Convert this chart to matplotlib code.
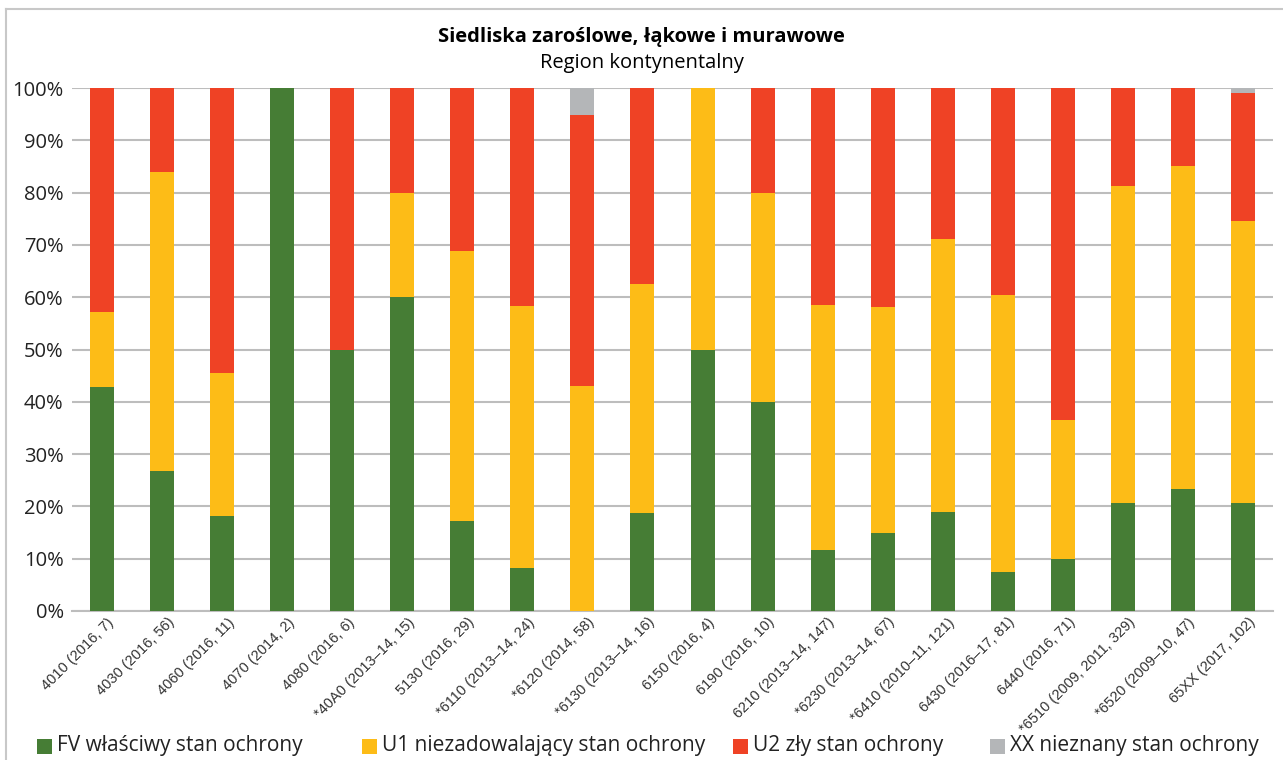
import numpy as np
import matplotlib.pyplot as plt
import matplotlib.transforms as mtransforms
from matplotlib.patches import Rectangle
from matplotlib.lines import Line2D
from matplotlib.ticker import PercentFormatter

categories = ['4010 (2016, 7)', '4030 (2016, 56)', '4060 (2016, 11)', '4070 (2014, 2)',
              '4080 (2016, 6)', '*40A0 (2013\u201314, 15)', '5130 (2016, 29)',
              '*6110 (2013\u201314, 24)', '*6120 (2014, 58)', '*6130 (2013\u201314, 16)',
              '6150 (2016, 4)', '6190 (2016, 10)', '6210 (2013\u201314, 147)',
              '*6230 (2013\u201314, 67)', '*6410 (2010\u201311, 121)', '6430 (2016\u201317, 81)',
              '6440 (2016, 71)', '*6510 (2009, 2011, 329)', '*6520 (2009\u201310, 47)',
              '65XX (2017, 102)']

fv = [42.9, 26.8, 18.2, 100, 50, 60, 17.2, 8.3, 0, 18.8,
      50, 40, 11.6, 14.9, 19.0, 7.4, 9.9, 20.7, 23.4, 20.6]
u1 = [14.3, 57.1, 27.3, 0, 0, 20, 51.7, 50.0, 43.1, 43.7,
      50, 40, 46.9, 43.3, 52.1, 53.1, 26.7, 60.5, 61.7, 53.9]
u2 = [42.8, 16.1, 54.5, 0, 50, 20, 31.1, 41.7, 51.7, 37.5,
      0, 20, 41.5, 41.8, 28.9, 39.5, 63.4, 18.8, 14.9, 24.5]
xx = [0, 0, 0, 0, 0, 0, 0, 0, 5.2, 0,
      0, 0, 0, 0, 0, 0, 0, 0, 0, 1.0]

series_labels = ['FV właściwy stan ochrony', 'U1 niezadowalający stan ochrony',
                 'U2 zły stan ochrony', 'XX nieznany stan ochrony']
colors = ['#467D35', '#FDBC17', '#EF4225', '#B4B6B8']

plt.rcParams['font.family'] = ['Open Sans', 'DejaVu Sans']

W, H = 1283, 760
fig = plt.figure(figsize=(W / 100, H / 100), dpi=100)
ax = fig.add_axes([72 / W, 1 - 611 / H, 1201 / W, 523 / H])

x = np.arange(len(categories))
bottom = np.zeros(len(categories))
for vals, col in zip([fv, u1, u2, xx], colors):
    vals = np.array(vals, dtype=float)
    ax.bar(x, vals, 0.4, bottom=bottom, color=col, zorder=3)
    bottom += vals

ax.set_xlim(-0.5, len(categories) - 0.5)
ax.set_ylim(0, 100)
ax.set_yticks(np.arange(0, 101, 10))
ax.yaxis.set_major_formatter(PercentFormatter(decimals=0))
ax.grid(axis='y', color='#BDBDBD', linewidth=1.5, zorder=0)
for s in ['top', 'right', 'left']:
    ax.spines[s].set_visible(False)
ax.spines['bottom'].set_color('#BDBDBD')
ax.spines['bottom'].set_linewidth(1.5)
ax.tick_params(axis='both', length=0)
ax.tick_params(axis='y', labelsize=14.5, pad=6, labelcolor='#222222')
ax.set_xticks(x)
ax.set_xticklabels(categories, rotation=45, ha='right', rotation_mode='anchor',
                   fontsize=10.5, family='Liberation Sans', color='#333333')
ax.tick_params(axis='x', pad=3)
shift = mtransforms.ScaledTranslation(5 / 100, 0, fig.dpi_scale_trans)
for lbl in ax.get_xticklabels():
    lbl.set_transform(lbl.get_transform() + shift)

fig.text(0.5, 1 - 37 / H, 'Siedliska zaroślowe, łąkowe i murawowe', ha='center',
         va='center', fontsize=14.5, fontweight='bold')
fig.text(0.5, 1 - 63 / H, 'Region kontynentalny', ha='center', va='center', fontsize=14.5)

# legend entries placed like in the original (square + label)
legend_x = [37, 362, 733, 990]
ly = 746
for lx, col, lab in zip(legend_x, colors, series_labels):
    fig.add_artist(Rectangle((lx / W, 1 - (ly + 7.5) / H), 15 / W, 15 / H,
                             transform=fig.transFigure, facecolor=col, edgecolor='none'))
    fig.text((lx + 20) / W, 1 - ly / H, lab, ha='left', va='center', fontsize=15,
             color='#222222')

# light frame around the chart
fig.add_artist(Line2D([6 / W, 1], [1 - 9 / H, 1 - 9 / H], color='#C8C8C8', lw=1.5))
fig.add_artist(Line2D([6 / W, 6 / W], [0, 1 - 9 / H], color='#C8C8C8', lw=1.5))

fig.savefig('out.png', dpi=100)
